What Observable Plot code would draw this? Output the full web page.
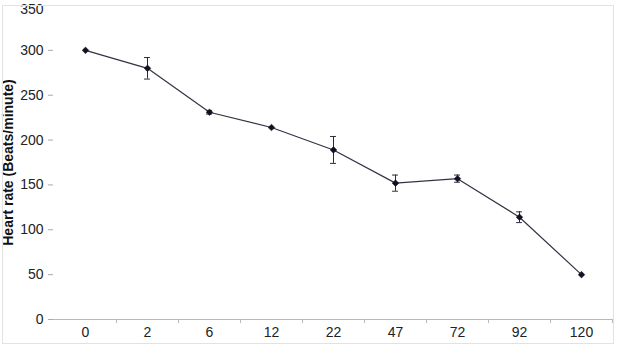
<!DOCTYPE html>
<html>
<head>
<meta charset="utf-8">
<script src="https://cdn.jsdelivr.net/npm/d3@7"></script>
<script src="https://cdn.jsdelivr.net/npm/@observablehq/plot@0.6"></script>
<style>
  html, body { margin: 0; padding: 0; background: #fff; }
  #wrap { position: relative; width: 624px; height: 356px; }
  #frame { position: absolute; left: 2px; top: 5px; width: 610px; height: 337px; border: 1px solid #e2e2e2; pointer-events: none; }
</style>
</head>
<body>
<div id="wrap"><div id="frame"></div></div>
<script>
const times = ["0", "2", "6", "12", "22", "47", "72", "92", "120"];
const heartRate = [300, 280, 231, 214, 189, 152, 157, 114, 50];
const errors = [0, 12, 2, 0, 15, 9, 4, 6, 0];
const yTicks = [0, 50, 100, 150, 200, 250, 300, 350];

const data = times.map((t, i) => ({t, v: heartRate[i], e: errors[i]}));
const withErr = data.filter(d => d.e > 0);
const topTick = yTicks[yTicks.length - 1];
const lowerTicks = yTicks.slice(0, -1);

const W = 624, H = 356, mL = 53, mR = 12, mT = 5, mB = 37;
const bw = (W - mL - mR) / times.length;
const ink = "#2a2a3c";

const chart = Plot.plot({
  width: W, height: H,
  marginLeft: mL, marginRight: mR, marginTop: mT, marginBottom: mB,
  style: {fontFamily: "'Liberation Sans', Arial, sans-serif", fontSize: "14px", color: "#222", background: "transparent", overflow: "visible"},
  x: {type: "band", domain: times, padding: 0, label: null},
  y: {domain: [0, topTick], ticks: yTicks, label: null},
  marks: [
    Plot.axisY({ticks: lowerTicks, tickSize: 5, stroke: "#aaa", tickPadding: 5, fontSize: 14, label: null}),
    Plot.text([topTick], {x: null, y: d => d, text: d => String(d), frameAnchor: "left", dx: -10, dy: 4, textAnchor: "end", fontSize: 14, fill: "#222"}),
    Plot.axisX({tickSize: 0, tickPadding: 8, fontSize: 14, label: null}),
    Plot.ruleY([0], {stroke: "#b8b8b8"}),
    Plot.ruleX([0, topTick], {x: () => 0, stroke: "#c8c8c8"}),
    Plot.ruleX(times, {x: d => d, y1: 0, y2: -4.5, dx: bw / 2, stroke: "#b8b8b8"}),
    Plot.ruleX(withErr, {x: "t", y1: d => d.v - d.e, y2: d => d.v + d.e, stroke: ink, strokeWidth: 1}),
    Plot.tickY(withErr, {x: "t", y: d => d.v - d.e, insetLeft: bw / 2 - 3, insetRight: bw / 2 - 3, stroke: ink}),
    Plot.tickY(withErr, {x: "t", y: d => d.v + d.e, insetLeft: bw / 2 - 3, insetRight: bw / 2 - 3, stroke: ink}),
    Plot.line(data, {x: "t", y: "v", stroke: "#333344", strokeWidth: 1.2}),
    Plot.dot(data, {x: "t", y: "v", symbol: "diamond2", r: 3, fill: "#111122", stroke: "#111122", strokeWidth: 0.5}),
    Plot.text(["Heart rate (Beats/minute)"], {frameAnchor: "left", dx: -45, rotate: -90, textAnchor: "middle", fontWeight: "bold", fontSize: 14, fill: "#111", text: d => d})
  ]
});
document.getElementById("wrap").prepend(chart);
</script>
</body>
</html>
